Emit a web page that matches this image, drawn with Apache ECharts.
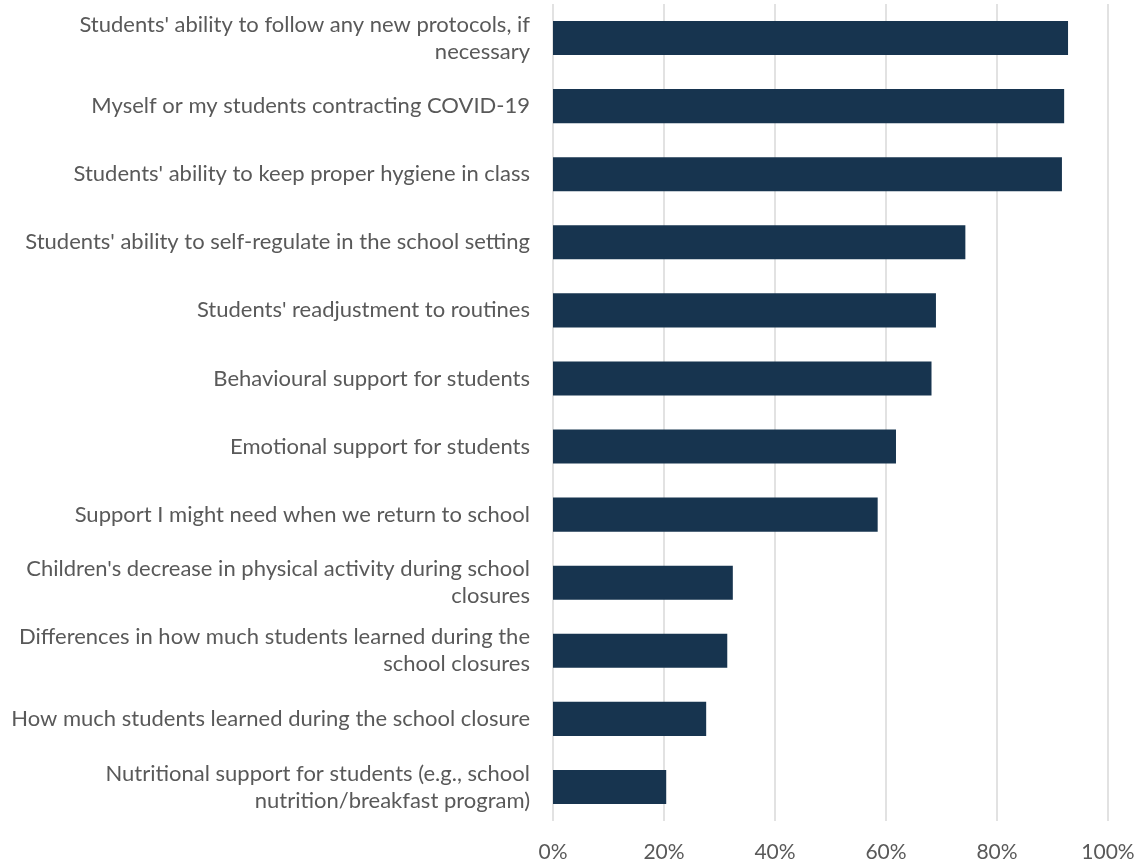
<!DOCTYPE html>
<html>
<head>
<meta charset="utf-8">
<script src="https://cdn.jsdelivr.net/npm/echarts@6/dist/echarts.min.js"></script>
<style>
  html, body { margin: 0; padding: 0; background: #ffffff; }
  #chart { width: 1139px; height: 865px; }
</style>
</head>
<body>
<div id="chart"></div>
<script>
// Concerns about returning to school, share of respondents (%)
const categories = [
  "Students' ability to follow any new protocols, if\nnecessary",
  "Myself or my students contracting COVID-19",
  "Students' ability to keep proper hygiene in class",
  "Students' ability to self-regulate in the school setting",
  "Students' readjustment to routines",
  "Behavioural support for students",
  "Emotional support for students",
  "Support I might need when we return to school",
  "Children's decrease in physical activity during school\nclosures",
  "Differences in how much students learned during the\nschool closures",
  "How much students learned during the school closure",
  "Nutritional support for students (e.g., school\nnutrition/breakfast program)"
];
const values = [92.8, 92.1, 91.7, 74.3, 69.0, 68.2, 61.8, 58.5, 32.4, 31.4, 27.6, 20.4];
const tickValues = [0, 20, 40, 60, 80, 100];

const textColor = '#595959';
const fontFamily = 'Lato, "Open Sans", sans-serif';

const chart = echarts.init(document.getElementById('chart'), null, { renderer: 'canvas' });
chart.setOption({
  animation: false,
  backgroundColor: '#ffffff',
  grid: { left: 553, right: 31, top: 4, bottom: 44, containLabel: false },
  xAxis: {
    type: 'value',
    min: tickValues[0],
    max: tickValues[tickValues.length - 1],
    interval: 20,
    axisLine: { show: false },
    axisTick: { show: false },
    splitLine: { show: true, lineStyle: { color: '#d9d9d9', width: 1.5 } },
    axisLabel: {
      color: textColor, fontFamily, fontSize: 21, margin: 21,
      formatter: v => v + '%'
    }
  },
  yAxis: {
    type: 'category',
    inverse: true,
    data: categories,
    axisLine: { show: false },
    axisTick: { show: false },
    axisLabel: {
      color: textColor, fontFamily, fontSize: 22, margin: 23,
      align: 'right', lineHeight: 27, padding: [5, 0, 0, 0]
    }
  },
  series: [{
    type: 'bar',
    data: values,
    barCategoryGap: '50%',
    itemStyle: { color: '#17344f' },
    label: { show: false }
  }]
});
</script>
</body>
</html>
